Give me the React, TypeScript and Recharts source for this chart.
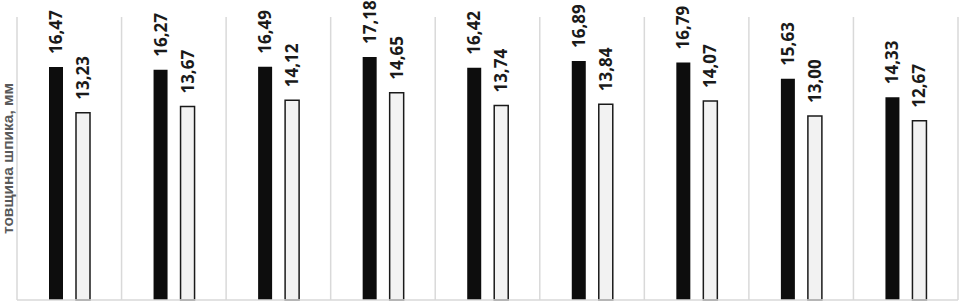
import { BarChart, Bar, XAxis, YAxis, CartesianGrid, LabelList } from 'recharts';

const categories = ['1', '2', '3', '4', '5', '6', '7', '8', '9'];
const seriesA = [16.47, 16.27, 16.49, 17.18, 16.42, 16.89, 16.79, 15.63, 14.33];
const seriesB = [13.23, 13.67, 14.12, 14.65, 13.74, 13.84, 14.07, 13.0, 12.67];
const yLabel = 'товщина шпика, мм';

const data = categories.map((c, i) => ({ name: c, a: seriesA[i], b: seriesB[i] }));

const fmt = (v: number) => v.toFixed(2).replace('.', ',');

const BarLabel = (props: any) => {
  const { x, y, width, value } = props;
  const cx = x + width / 2 + 6;
  const cy = y - 13;
  return (
    <text
      x={cx}
      y={cy}
      transform={`rotate(-90, ${cx}, ${cy})`}
      textAnchor="start"
      fontFamily="'Open Sans', sans-serif"
      fontWeight={700}
      fontSize={17}
      fill="#1a1a1a"
    >
      {fmt(value)}
    </text>
  );
};

// axis title sits at the far left edge, like the source
const AxisTitle = (props: any) => {
  const vb = props.viewBox || {};
  const cx = 13;
  const cy = (vb.y ?? 17) + (vb.height ?? 283) / 2;
  return (
    <text
      x={cx}
      y={cy}
      transform={`rotate(-90, ${cx}, ${cy})`}
      textAnchor="middle"
      fontFamily="'Liberation Sans', Arial, sans-serif"
      fontWeight={700}
      fontSize={15.5}
      fill="#595959"
    >
      {yLabel}
    </text>
  );
};

export default function App() {
  return (
    <div style={{ width: 961, height: 303 }}>
      <style>{'body{margin:0}'}</style>
      <BarChart
        width={961}
        height={303}
        data={data}
        margin={{ top: 17, right: 3, bottom: 2, left: 0 }}
        barSize={14}
        barGap={13}
        barCategoryGap={0}
      >
        <CartesianGrid
          horizontal={false}
          stroke="#d9d9d9"
          strokeWidth={1.5}
          verticalCoordinatesGenerator={({ offset }: any) =>
            categories.map((_, i) => offset.left + (i * offset.width) / categories.length).concat([offset.left + offset.width])
          }
        />
        <XAxis dataKey="name" tick={false} tickLine={false} height={1} axisLine={{ stroke: '#d9d9d9', strokeWidth: 1.5 }} />
        <YAxis
          domain={[0, 20]}
          tick={false}
          tickLine={false}
          axisLine={false}
          width={17}
          label={{ content: AxisTitle }}
        />
        <Bar dataKey="a" fill="#0d0d0d" isAnimationActive={false}>
          <LabelList dataKey="a" content={BarLabel} />
        </Bar>
        <Bar dataKey="b" fill="#f2f2f2" stroke="#1a1a1a" strokeWidth={1.5} isAnimationActive={false}>
          <LabelList dataKey="b" content={BarLabel} />
        </Bar>
      </BarChart>
    </div>
  );
}
